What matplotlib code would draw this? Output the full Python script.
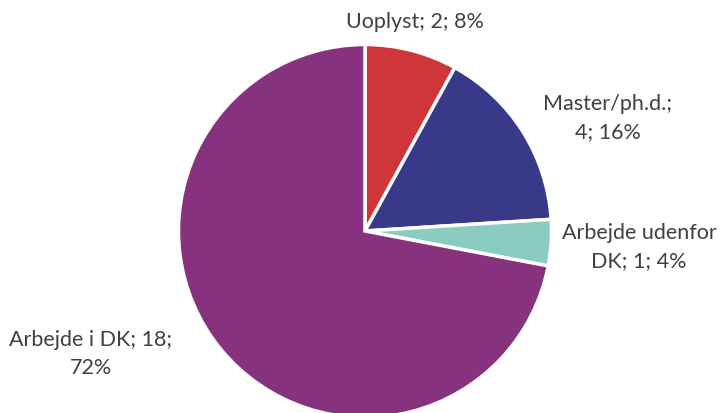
import numpy as np
import matplotlib.pyplot as plt

labels = ['Uoplyst', 'Master/ph.d.', 'Arbejde udenfor DK', 'Arbejde i DK']
values = [2, 4, 1, 18]
pcts = [8, 16, 4, 72]
colors = ['#CF3639', '#39398A', '#8ACCC0', '#86327E']

# label texts as wrapped in the original
label_txt = ['Uoplyst; 2; 8%', 'Master/ph.d.;\n4; 16%', 'Arbejde udenfor\nDK; 1; 4%', 'Arbejde i DK; 18;\n72%']
# label centres in pixels (x, y from top)
label_px = [(415, 22), (608, 118), (639, 247), (91, 354)]

W, H = 722, 414
cx, cy, r = 365, 232, 186.5

fig = plt.figure(figsize=(W / 100, H / 100), dpi=100)
ax = fig.add_axes([0, 0, 1, 1])
ax.pie(values, colors=colors, startangle=90, counterclock=False, radius=1,
       wedgeprops=dict(edgecolor='white', linewidth=2.5))
ax.set_aspect('auto')
ax.set_xlim(-cx / r, (W - cx) / r)
ax.set_ylim(-(H - cy) / r, cy / r)
ax.axis('off')

for t, (px, py) in zip(label_txt, label_px):
    ax.text((px - cx) / r, (cy - py) / r, t, ha='center', va='center',
            fontsize=15.5, family=['Lato', 'DejaVu Sans'], color='#404040',
            linespacing=1.45)

fig.savefig('out.png', dpi=100)
